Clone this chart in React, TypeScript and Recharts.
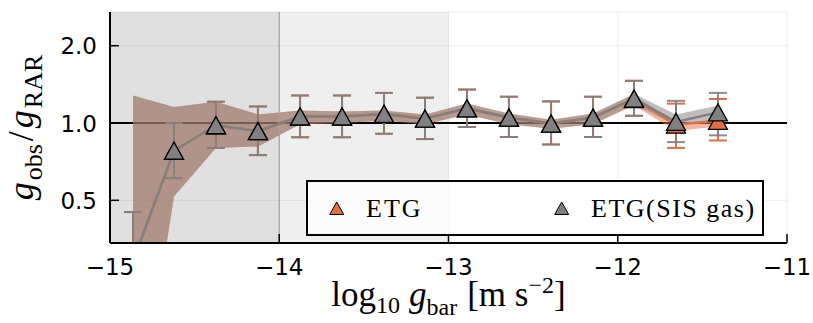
import React from "react";
import {
  ComposedChart,
  XAxis,
  YAxis,
  CartesianGrid,
  Area,
  Line,
  Scatter,
  ErrorBar,
  ReferenceArea,
  ReferenceLine,
} from "recharts";

// bin centres, log10 g_bar
const LOG_G_BAR = [
  -14.864, -14.622, -14.374, -14.126, -13.877, -13.629, -13.381, -13.139, -12.891, -12.643, -12.394,
  -12.146, -11.904, -11.656, -11.408,
];

// ETG (orange)
const ETG = [0.29, 0.78, 0.98, 0.93, 1.06, 1.06, 1.085, 1.04, 1.14, 1.05, 0.995, 1.05, 1.24, 0.985, 1.02];
const ETG_LO = [0.18, 0.61, 0.8, 0.75, 0.88, 0.88, 0.908, 0.866, 0.965, 0.882, 0.825, 0.882, 1.067, 0.8, 0.855];
const ETG_HI = [0.45, 1.0, 1.21, 1.16, 1.28, 1.28, 1.31, 1.255, 1.35, 1.266, 1.214, 1.266, 1.46, 1.19, 1.24];
const ETG_BAND_LO = [0.05, 0.517, 0.8, 0.81, 0.99, 1.0, 1.02, 0.99, 1.08, 0.99, 0.95, 0.99, 1.17, 0.93, 0.97];
const ETG_BAND_HI = [1.28, 1.155, 1.21, 1.08, 1.12, 1.11, 1.12, 1.08, 1.19, 1.09, 1.03, 1.09, 1.29, 0.99, 1.04];

// ETG (SIS gas) (gray)
const SIS = [0.29, 0.78, 0.98, 0.93, 1.06, 1.06, 1.085, 1.04, 1.14, 1.05, 0.995, 1.05, 1.245, 1.01, 1.1];
const SIS_LO = [0.18, 0.61, 0.8, 0.75, 0.88, 0.88, 0.908, 0.866, 0.965, 0.882, 0.825, 0.882, 1.067, 0.843, 0.895];
const SIS_HI = [0.45, 1.0, 1.21, 1.16, 1.28, 1.28, 1.31, 1.255, 1.35, 1.266, 1.214, 1.266, 1.46, 1.22, 1.31];
const SIS_BAND_LO = [0.05, 0.517, 0.8, 0.81, 0.99, 1.0, 1.02, 0.99, 1.08, 0.99, 0.95, 0.99, 1.18, 0.98, 1.04];
const SIS_BAND_HI = [1.28, 1.155, 1.21, 1.08, 1.12, 1.11, 1.12, 1.08, 1.19, 1.09, 1.03, 1.09, 1.3, 1.08, 1.17];

const X_TICKS = [-15, -14, -13, -12, -11];
const Y_TICKS = [0.5, 1, 2];
const Y_TICK_LABELS: Record<number, string> = { 0.5: "0.5", 1: "1.0", 2: "2.0" };

const ORANGE = "#e26f46";
const GRAY = "#808080";
const SERIF = "'Liberation Serif', 'DejaVu Serif', serif";
const SANS = "'DejaVu Sans', sans-serif";

const W = 813;
const H = 323;
const MARGIN = { top: 12, right: 26, bottom: 0, left: 0 };
const Y_AXIS_W = 110;
const X_AXIS_H = 80;

const rows = LOG_G_BAR.map((x, i) => ({
  x,
  etg: ETG[i],
  etgErr: [ETG[i] - ETG_LO[i], ETG_HI[i] - ETG[i]],
  etgBand: [ETG_BAND_LO[i], ETG_BAND_HI[i]],
  sis: SIS[i],
  sisErr: [SIS[i] - SIS_LO[i], SIS_HI[i] - SIS[i]],
  sisBand: [SIS_BAND_LO[i], SIS_BAND_HI[i]],
}));

function Triangle(props: any) {
  const { cx, cy, fill } = props;
  if (cx == null || cy == null) return null;
  const w = 19;
  const h = 17;
  return (
    <path
      d={`M${cx},${cy - h / 2} L${cx + w / 2},${cy + h / 2} L${cx - w / 2},${cy + h / 2} Z`}
      fill={fill}
      stroke="#000"
      strokeWidth={1.3}
    />
  );
}

function XTick({ x, y, payload }: any) {
  const v = payload.value as number;
  return (
    <g>
      <line x1={x} x2={x} y1={y} y2={y - 9} stroke="#000" strokeWidth={1.5} />
      <text x={x} y={y + 32} textAnchor="middle" fontFamily={SANS} fontSize={23} fill="#000">
        {v < 0 ? `\u2212${Math.abs(v)}` : String(v)}
      </text>
    </g>
  );
}

function YTick({ x, y, payload }: any) {
  return (
    <g>
      <line x1={x} x2={x + 9} y1={y} y2={y} stroke="#000" strokeWidth={1.5} />
      <text x={x - 13} y={y + 8.5} textAnchor="end" fontFamily={SANS} fontSize={23} fill="#000">
        {Y_TICK_LABELS[payload.value] ?? String(payload.value)}
      </text>
    </g>
  );
}

function XTitle(props: any) {
  const vb = props.viewBox;
  const cx = vb.x + vb.width / 2;
  return (
    <text x={cx} y={vb.y + 63} textAnchor="middle" fontFamily={SERIF} fontSize={35} fill="#000">
      log
      <tspan fontSize={24} dy={7}>10</tspan>
      <tspan dy={-7} dx={9} fontStyle="italic">g</tspan>
      <tspan fontSize={24} dy={9}>bar</tspan>
      <tspan dy={-9} dx={10}>[m s</tspan>
      <tspan fontSize={24} dy={-13}>{"\u22122"}</tspan>
      <tspan dy={13}>]</tspan>
    </text>
  );
}

function YTitle(props: any) {
  const vb = props.viewBox;
  const cy = vb.y + vb.height / 2;
  const bx = 33;
  return (
    <text
      x={bx}
      y={cy}
      transform={`rotate(-90, ${bx}, ${cy})`}
      textAnchor="middle"
      fontFamily={SERIF}
      fontSize={36}
      fill="#000"
    >
      <tspan fontStyle="italic">g</tspan>
      <tspan fontSize={26} dy={9} dx={2}>obs</tspan>
      <tspan dy={-9} dx={3}>/</tspan>
      <tspan fontStyle="italic" dx={3}>g</tspan>
      <tspan fontSize={26} dy={9} dx={2}>RAR</tspan>
    </text>
  );
}

function LegendBox() {
  const tri = (cx: number, cy: number, fill: string) => (
    <path
      d={`M${cx},${cy - 6.5} L${cx + 7},${cy + 6} L${cx - 7},${cy + 6} Z`}
      fill={fill}
      stroke="#000"
      strokeWidth={1}
    />
  );
  return (
    <div
      style={{
        position: "absolute",
        left: 306,
        top: 180,
        width: 458,
        height: 56,
        boxSizing: "border-box",
        border: "2px solid #000",
        background: "rgba(255,255,255,0.8)",
      }}
    >
      <svg width={454} height={52} style={{ display: "block" }}>
        {tri(28.7, 26.5, ORANGE)}
        <text x={58} y={35} fontFamily={SERIF} fontSize={26} letterSpacing={2} fill="#000">
          ETG
        </text>
        {tri(253.7, 26.5, GRAY)}
        <text x={283} y={35} fontFamily={SERIF} fontSize={26} letterSpacing={1.5} fill="#000">
          ETG(SIS gas)
        </text>
      </svg>
    </div>
  );
}

export default function App() {
  const plotX = MARGIN.left + Y_AXIS_W;
  const plotY = MARGIN.top;
  const plotW = W - plotX - MARGIN.right;
  const plotH = H - MARGIN.top - MARGIN.bottom - X_AXIS_H;
  return (
    <div style={{ position: "absolute", left: 0, top: 0, width: W, height: H, background: "#fff" }}>
      {/* clip for the error bars, which recharts does not clip to the plot area */}
      <svg width={0} height={0} style={{ position: "absolute" }}>
        <defs>
          <clipPath id="plot-clip" clipPathUnits="userSpaceOnUse">
            <rect x={plotX} y={plotY} width={plotW} height={plotH} />
          </clipPath>
        </defs>
      </svg>
      <ComposedChart width={W} height={H} data={rows} margin={MARGIN}>
        <ReferenceArea x1={-15} x2={-14} fill="#000" fillOpacity={0.12} stroke="none" />
        <ReferenceArea x1={-14} x2={-13} fill="#000" fillOpacity={0.063} stroke="none" />
        <CartesianGrid stroke="#000" strokeOpacity={0.07} strokeWidth={1} />
        <XAxis
          dataKey="x"
          type="number"
          domain={[-15, -11]}
          ticks={X_TICKS}
          allowDataOverflow
          height={X_AXIS_H}
          axisLine={{ stroke: "#000", strokeWidth: 2 }}
          tickLine={false}
          tickSize={0}
          tickMargin={0}
          tick={<XTick />}
          label={{ content: XTitle }}
        />
        <YAxis
          type="number"
          scale="log"
          domain={[0.341, 2.706]}
          ticks={Y_TICKS}
          allowDataOverflow
          width={Y_AXIS_W}
          axisLine={{ stroke: "#000", strokeWidth: 2 }}
          tickLine={false}
          tickSize={0}
          tickMargin={0}
          tick={<YTick />}
          label={{ content: YTitle }}
        />
        <ReferenceLine x={-14} stroke="#a3a3a3" strokeWidth={1.2} />
        <ReferenceLine y={1} stroke="#000" strokeWidth={2} zIndex={50} />
        <Area
          dataKey="etgBand"
          type="linear"
          fill={ORANGE}
          fillOpacity={0.5}
          stroke="none"
          isAnimationActive={false}
        />
        <Area
          dataKey="sisBand"
          type="linear"
          fill={GRAY}
          fillOpacity={0.5}
          stroke="none"
          isAnimationActive={false}
        />
        <Line dataKey="etg" type="linear" stroke={ORANGE} strokeWidth={2.5} dot={false} isAnimationActive={false} />
        <Line dataKey="sis" type="linear" stroke={GRAY} strokeWidth={2.5} dot={false} isAnimationActive={false} />
        <Scatter dataKey="etg" fill={ORANGE} shape={Triangle} isAnimationActive={false}>
          <ErrorBar
            dataKey="etgErr"
            direction="y"
            width={9}
            stroke={ORANGE}
            strokeWidth={2}
            clipPath="url(#plot-clip)"
          />
        </Scatter>
        <Scatter dataKey="sis" fill={GRAY} shape={Triangle} isAnimationActive={false}>
          <ErrorBar
            dataKey="sisErr"
            direction="y"
            width={9}
            stroke={GRAY}
            strokeWidth={2}
            strokeOpacity={0.9}
            clipPath="url(#plot-clip)"
          />
        </Scatter>
      </ComposedChart>
      <LegendBox />
    </div>
  );
}
